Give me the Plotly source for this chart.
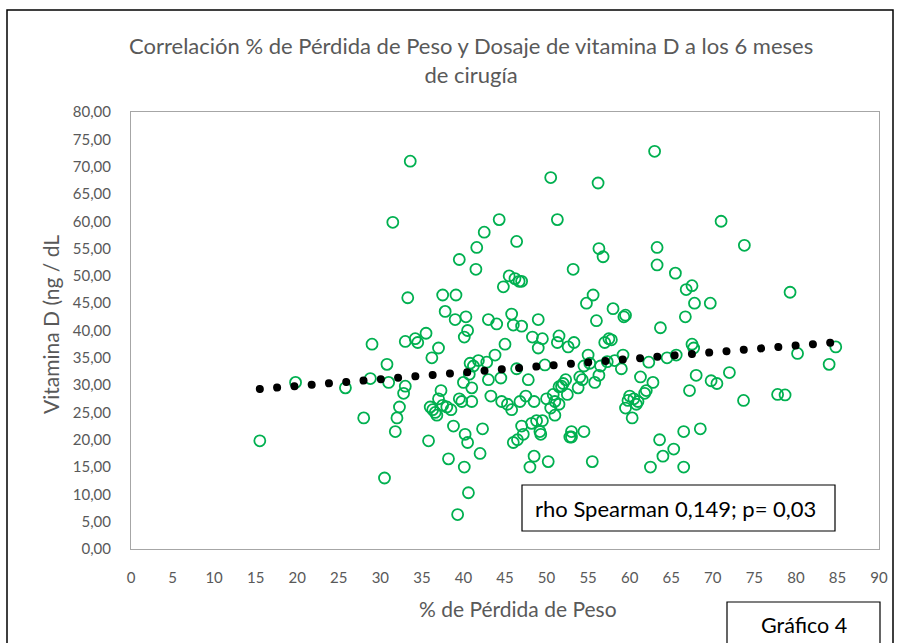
import plotly.graph_objects as go

# % de Pérdida de Peso (x) and Vitamina D (y)
perdida_peso = [
    15.5, 19.8, 25.8, 28.0, 28.8, 29.0, 30.5, 30.8, 31.0, 31.5, 31.8, 32.0, 32.3, 32.8, 33.0,
    33.0, 33.3, 33.6, 34.2, 34.5, 35.5, 35.8, 36.0, 36.2, 36.3, 36.6, 36.8, 37.0, 37.0, 37.3,
    37.5, 37.5, 37.8, 38.0, 38.2, 38.5, 38.8, 39.0, 39.1, 39.3, 39.5, 39.5, 39.8, 40.0, 40.1,
    40.1, 40.2, 40.3, 40.5, 40.5, 40.6, 40.7, 40.8, 41.0, 41.0, 41.2, 41.5, 41.6, 41.8, 42.0,
    42.3, 42.5, 42.8, 43.0, 43.0, 43.3, 43.8, 44.0, 44.3, 44.5, 44.6, 44.8, 45.0, 45.3, 45.5,
    45.8, 45.8, 46.0, 46.0, 46.2, 46.4, 46.4, 46.5, 46.7, 46.8, 47.0, 47.0, 47.0, 47.2, 47.5,
    47.8, 48.0, 48.2, 48.3, 48.5, 48.5, 48.8, 49.0, 49.0, 49.2, 49.3, 49.5, 49.5, 49.8, 50.0,
    50.2, 50.5, 50.5, 50.8, 51.0, 51.0, 51.3, 51.5, 51.5, 51.3, 51.5, 51.8, 52.0, 52.3, 52.5,
    52.6, 52.8, 53.0, 53.0, 53.2, 53.3, 53.8, 54.0, 54.3, 54.5, 54.5, 54.8, 55.0, 55.2, 55.5,
    55.6, 55.8, 56.0, 56.2, 56.3, 56.3, 56.5, 56.8, 57.0, 57.3, 57.5, 57.8, 58.0, 58.2, 59.0,
    59.2, 59.3, 59.5, 59.5, 59.8, 60.0, 60.3, 60.5, 60.8, 61.0, 61.3, 61.8, 62.0, 62.3, 62.5,
    62.8, 63.0, 63.3, 63.3, 63.6, 63.7, 64.0, 64.5, 65.3, 65.5, 65.6, 66.5, 66.5, 66.7, 66.8,
    67.2, 67.5, 67.5, 67.7, 67.8, 68.0, 68.5, 69.7, 69.8, 70.5, 71.0, 72.0, 73.8, 73.7, 77.8,
    78.7, 79.3, 80.2, 84.0, 84.8,
]
vitamina_d = [
    19.8, 30.5, 29.5, 24.0, 31.2, 37.5, 13.0, 33.8, 30.5, 59.8, 21.5, 24.0, 26.0, 28.5, 29.8,
    38.0, 46.0, 71.0, 38.5, 37.8, 39.5, 19.8, 26.0, 35.0, 25.5, 25.0, 24.5, 36.8, 27.5, 29.0,
    26.3, 46.5, 43.5, 26.0, 16.5, 25.5, 22.5, 42.0, 46.5, 6.3, 53.0, 27.5, 27.0, 30.5, 38.8,
    15.0, 21.0, 42.5, 19.5, 40.0, 10.3, 32.0, 34.0, 27.0, 29.5, 33.5, 51.2, 55.2, 34.5, 17.5,
    22.0, 58.0, 34.2, 42.0, 31.0, 28.0, 35.5, 41.2, 60.3, 31.3, 27.0, 48.0, 37.5, 26.5, 50.0,
    25.5, 43.0, 41.0, 19.5, 49.5, 56.3, 33.0, 20.0, 49.0, 27.0, 49.0, 22.5, 40.8, 21.0, 28.0,
    31.0, 15.0, 23.0, 38.8, 27.0, 17.0, 23.5, 36.8, 42.0, 21.5, 21.0, 23.5, 38.5, 33.7, 27.5,
    16.0, 68.0, 25.8, 28.3, 24.5, 27.0, 60.3, 26.5, 39.0, 37.8, 29.7, 29.8, 30.3, 31.0, 28.3,
    37.0, 20.5, 21.5, 20.5, 51.2, 37.8, 29.5, 31.5, 31.0, 21.5, 33.5, 45.0, 35.5, 34.0, 16.0,
    46.5, 30.5, 41.8, 67.0, 55.0, 31.8, 33.5, 53.5, 37.8, 34.3, 38.5, 38.3, 44.0, 34.5, 33.0,
    35.5, 42.5, 42.8, 25.8, 27.2, 28.0, 24.0, 27.5, 26.5, 27.0, 31.5, 28.5, 29.0, 34.2, 15.0,
    30.5, 72.8, 55.2, 52.0, 20.0, 40.5, 17.0, 35.0, 18.3, 50.5, 35.5, 21.5, 15.0, 42.5, 47.5,
    29.0, 48.2, 37.5, 36.8, 45.0, 31.8, 22.0, 45.0, 30.8, 30.3, 60.0, 32.3, 55.6, 27.2, 28.3,
    28.2, 47.0, 35.8, 33.8, 37.0,
]

# Linear trend line end points
trend_x = [15.5, 84.5]
trend_y = [29.3, 37.8]

x_ticks = list(range(0, 91, 5))
y_ticks = list(range(0, 81, 5))

title_text = "Correlación % de Pérdida de Peso y Dosaje de vitamina D a los 6 meses<br>de cirugía"
x_title = "% de Pérdida de Peso"
y_title = "Vitamina D (ng / dL"
stat_text = "rho Spearman 0,149; p= 0,03"
fig_label = "Gráfico 4"

FONT = "Lato, 'Open Sans', sans-serif"
GRAY = "#595959"

fig = go.Figure()
fig.add_trace(go.Scatter(
    x=perdida_peso, y=vitamina_d, mode="markers",
    marker=dict(symbol="circle-open", size=11, color="#00B050", line=dict(width=1.8, color="#00B050")),
    hoverinfo="x+y", showlegend=False,
))
fig.add_trace(go.Scatter(
    x=trend_x, y=trend_y, mode="lines",
    line=dict(color="black", width=8, dash="0.01px,17.33px"),
    hoverinfo="skip", showlegend=False,
))

axis_common = dict(
    showgrid=False, zeroline=False, showline=True, mirror=True,
    linecolor="#A6A6A6", linewidth=1, ticks="",
    tickfont=dict(family=FONT, size=15, color=GRAY),
)
fig.update_xaxes(range=[0, 90], tickvals=x_ticks, ticklabelstandoff=15, **axis_common)
fig.update_yaxes(range=[0, 80], tickvals=y_ticks, tickformat=".2f", ticklabelstandoff=16, **axis_common)

W, H = 900, 643
L, R, T, B = 131, 21, 112, 94
pw, ph = W - L - R, H - T - B

def px(x):
    return (x - L) / pw

def py(y):
    return (H - B - y) / ph

shapes = [
    dict(type="rect", xref="paper", yref="paper", x0=px(7), x1=px(893), y0=py(700), y1=py(10),
         line=dict(color="black", width=1.5)),
    dict(type="rect", xref="paper", yref="paper", x0=px(522), x1=px(835), y0=py(531), y1=py(485),
         line=dict(color="black", width=1.2), fillcolor="white"),
    dict(type="rect", xref="paper", yref="paper", x0=px(727), x1=px(880), y0=py(700), y1=py(602),
         line=dict(color="black", width=1.2), fillcolor="white"),
]

annotations = [
    dict(text=title_text, xref="paper", yref="paper", x=px(471), y=py(60.5), showarrow=False,
         font=dict(family=FONT, size=22, color=GRAY), xanchor="center", yanchor="middle"),
    dict(text=y_title, xref="paper", yref="paper", x=px(50), y=py(325), showarrow=False, textangle=-90,
         font=dict(family=FONT, size=21, color=GRAY), xanchor="center", yanchor="middle"),
    dict(text=x_title, xref="paper", yref="paper", x=px(518), y=py(608), showarrow=False,
         font=dict(family=FONT, size=21, color=GRAY), xanchor="center", yanchor="middle"),
    dict(text=stat_text, xref="paper", yref="paper", x=px(675), y=py(508), showarrow=False,
         font=dict(family=FONT, size=22, color="black"), xanchor="center", yanchor="middle"),
    dict(text=fig_label, xref="paper", yref="paper", x=px(804), y=py(625), showarrow=False,
         font=dict(family=FONT, size=21.5, color="black"), xanchor="center", yanchor="middle"),
]

fig.update_layout(
    width=W, height=H, margin=dict(l=L, r=R, t=T, b=B),
    paper_bgcolor="white", plot_bgcolor="white",
    separators=",.", shapes=shapes, annotations=annotations,
    font=dict(family=FONT, color=GRAY),
)

post = """
document.body.style.margin = '0';
document.documentElement.style.overflow = 'hidden';
var gd = document.getElementById('{plot_id}');
gd.querySelectorAll('.scatterlayer .trace path.js-line').forEach(function(p){
  p.style.strokeLinecap = 'round';
});
"""
fig.write_html("out.html", post_script=post, config={"displayModeBar": False})
